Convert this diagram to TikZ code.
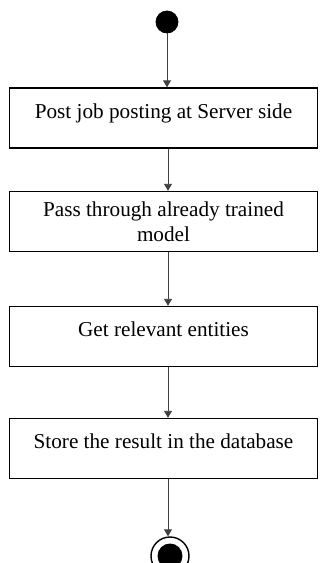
\documentclass[tikz,border=0pt]{standalone}
\usepackage{fontspec}
\setmainfont{Liberation Serif}
\usetikzlibrary{arrows.meta,positioning}

\begin{document}
\begin{tikzpicture}[x=0.5pt,y=-0.5pt,
  act/.style={draw,line width=0.7pt,minimum width=154pt,minimum height=30pt,align=center,inner sep=2pt,
    font=\fontsize{10.6pt}{12.5pt}\selectfont},
  actone/.style={act,text depth=7pt},
  flow/.style={-{Triangle[width=4pt,length=3.5pt]},line width=0.45pt,draw=black!75}]
\useasboundingbox (0,0) rectangle (320,563);
\coordinate (axis) at (168,0);
\node[draw,circle,fill=black,minimum size=11pt,inner sep=0pt] (start) at (167,22) {};
\node[actone] (b1) at (163.5,118) {Post job posting at Server side};
\node[act] (b2) at (163.5,221.5) {Pass through already trained\\model};
\node[actone] (b3) at (163.5,336.5) {Get relevant entities};
\node[actone] (b4) at (163.5,448.5) {Store the result in the database};
\node[draw,circle,line width=0.7pt,minimum size=19pt,inner sep=0pt] (stop) at (170,556) {};
\node[circle,fill=black,minimum size=12.5pt,inner sep=0pt] (stopin) at (stop.center) {};
\draw[flow] (start) -- (b1.north -| start);
\draw[flow] (b1.south -| axis) -- (b2.north -| axis);
\draw[flow] (b2.south -| axis) -- (b3.north -| axis);
\draw[flow] (b3.south -| axis) -- (b4.north -| axis);
\draw[flow] (b4.south -| axis) -- (stop.north -| axis);
\end{tikzpicture}
\end{document}
